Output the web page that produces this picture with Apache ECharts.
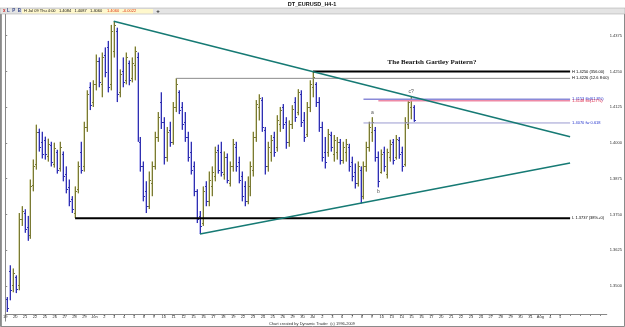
<!DOCTYPE html>
<html><head><meta charset="utf-8">
<script src="https://cdn.jsdelivr.net/npm/echarts@6/dist/echarts.min.js"></script>
<style>html,body{margin:0;padding:0;background:#fff}#c{width:625px;height:327px}</style>
</head><body><div id="c"></div>
<script>
// ---- data (EURUSD H4 bars) ----
const opens = [1.3454,1.3554,1.3503,1.3530,1.3503,1.3734,1.3755,1.3706,1.3679,1.3852,
1.3928,1.4039,1.4004,1.4011,1.3953,1.3994,1.3928,1.3970,1.3914,1.3963,
1.3893,1.3845,1.3803,1.3755,1.3838,1.3970,1.3918,1.4057,1.4195,1.4143,
1.4205,1.4288,1.4205,1.4309,1.4334,1.4205,1.4323,1.4392,1.4177,1.4253,
1.4219,1.4281,1.4226,1.4274,1.4299,1.4004,1.3918,1.3831,1.3779,1.3859,
1.3918,1.4021,1.4143,1.4074,1.3952,1.4046,1.4004,1.4126,1.4177,1.4126,
1.4074,1.4021,1.3970,1.3918,1.3831,1.3744,1.3720,1.3848,1.3796,1.3848,
1.3883,1.3977,1.3970,1.3893,1.3952,1.3859,1.3918,1.3987,1.3935,1.3883,
1.3848,1.3796,1.3848,1.3907,1.4021,1.4126,1.4150,1.4046,1.3918,1.3970,
1.4021,1.3987,1.4066,1.4126,1.4074,1.4004,1.4066,1.4143,1.4108,1.4170,
1.4079,1.4031,1.4126,1.4195,1.4205,1.4143,1.4056,1.3970,1.3970,1.4028,
1.3963,1.3970,1.4004,1.3942,1.3970,1.3987,1.3935,1.3900,1.3859,1.3907,
1.3814,1.3918,1.3987,1.4039,1.4046,1.3952,1.3900,1.3970,1.3893,1.3952,
1.4004,1.3952,1.4011,1.3970,1.3928,1.4066,1.4126,1.4126];
const highs = [1.3461,1.3572,1.3561,1.3537,1.3755,1.3779,1.3768,1.3745,1.3872,1.3942,
1.4064,1.4050,1.4039,1.4022,1.4015,1.4004,1.4001,1.3976,1.4004,1.3970,
1.3918,1.3872,1.3814,1.3848,1.3935,1.4004,1.4074,1.4184,1.4212,1.4219,
1.4309,1.4299,1.4316,1.4334,1.4357,1.4413,1.4426,1.4403,1.4257,1.4299,
1.4316,1.4288,1.4299,1.4337,1.4316,1.4021,1.3935,1.3866,1.3900,1.3935,
1.4039,1.4108,1.4177,1.4090,1.4056,1.4074,1.4143,1.4226,1.4184,1.4143,
1.4108,1.4039,1.4004,1.3935,1.3838,1.3762,1.3848,1.3866,1.3900,1.3918,
1.3987,1.3994,1.4004,1.3970,1.3963,1.3935,1.4014,1.4004,1.3952,1.3900,
1.3866,1.3883,1.3935,1.4039,1.4150,1.4170,1.4160,1.4056,1.4004,1.4028,
1.4039,1.4097,1.4126,1.4136,1.4090,1.4079,1.4132,1.4160,1.4188,1.4184,
1.4108,1.4143,1.4219,1.4250,1.4212,1.4160,1.4074,1.4021,1.4049,1.4039,
1.4028,1.4021,1.4014,1.4004,1.4014,1.3997,1.3952,1.3928,1.3935,1.3918,
1.3935,1.4004,1.4074,1.4090,1.4056,1.3970,1.3977,1.3987,1.3980,1.4011,
1.4014,1.4028,1.4021,1.3987,1.4090,1.4153,1.4163,1.4132];
const lows = [1.3409,1.3450,1.3478,1.3475,1.3485,1.3710,1.3686,1.3658,1.3665,1.3831,
1.3907,1.3970,1.3946,1.3942,1.3935,1.3918,1.3914,1.3893,1.3900,1.3866,
1.3824,1.3779,1.3755,1.3738,1.3824,1.3893,1.3900,1.4039,1.4115,1.4126,
1.4184,1.4195,1.4160,1.4230,1.4177,1.4184,1.4299,1.4143,1.4160,1.4195,
1.4205,1.4202,1.4212,1.4219,1.4004,1.3900,1.3796,1.3755,1.3769,1.3814,
1.3907,1.4004,1.4049,1.3925,1.3935,1.3987,1.3994,1.4108,1.4101,1.4046,
1.4004,1.3935,1.3890,1.3814,1.3720,1.3682,1.3710,1.3779,1.3779,1.3814,
1.3866,1.3893,1.3883,1.3872,1.3859,1.3848,1.3900,1.3900,1.3859,1.3796,
1.3779,1.3786,1.3814,1.3883,1.4004,1.4079,1.4039,1.3890,1.3900,1.3935,
1.3952,1.3970,1.4039,1.4049,1.3980,1.3987,1.4049,1.4074,1.4097,1.4056,
1.4004,1.4021,1.4108,1.4160,1.4126,1.4039,1.3935,1.3911,1.3952,1.3970,
1.3935,1.3942,1.3925,1.3928,1.3935,1.3900,1.3866,1.3841,1.3848,1.3789,
1.3803,1.3900,1.3970,1.4004,1.3935,1.3845,1.3893,1.3900,1.3876,1.3935,
1.3925,1.3942,1.3945,1.3900,1.3918,1.4049,1.4083,1.4074];
const closes = [1.3422,1.3485,1.3547,1.3489,1.3734,1.3762,1.3699,1.3672,1.3849,1.3918,
1.4039,1.3987,1.3963,1.3963,1.3997,1.3935,1.3983,1.3907,1.3987,1.3883,
1.3838,1.3796,1.3768,1.3831,1.3918,1.3907,1.4057,1.4170,1.4133,1.4205,
1.4288,1.4212,1.4299,1.4247,1.4195,1.4392,1.4413,1.4170,1.4240,1.4212,
1.4299,1.4219,1.4281,1.4323,1.4021,1.3918,1.3814,1.3779,1.3872,1.3918,
1.4021,1.4090,1.4074,1.3952,1.4039,1.4004,1.4126,1.4205,1.4115,1.4066,
1.4021,1.3952,1.3907,1.3831,1.3734,1.3710,1.3831,1.3796,1.3872,1.3900,
1.3970,1.3907,1.3900,1.3952,1.3872,1.3918,1.3997,1.3918,1.3872,1.3814,
1.3796,1.3866,1.3918,1.4021,1.4136,1.4157,1.4056,1.3918,1.3987,1.4011,
1.3970,1.4079,1.4115,1.4066,1.4004,1.4066,1.4118,1.4090,1.4177,1.4074,
1.4021,1.4126,1.4205,1.4229,1.4143,1.4056,1.3952,1.3935,1.4031,1.3987,
1.4011,1.4004,1.3942,1.3987,1.3997,1.3918,1.3883,1.3859,1.3918,1.3814,
1.3918,1.3987,1.4056,1.4074,1.3952,1.3866,1.3963,1.3918,1.3970,1.3997,
1.3942,1.4014,1.3963,1.3918,1.4074,1.4143,1.4150,1.4079];

// x-axis tick labels (one every 10 px)
const xTickLabels = ["19","20","21","22","25","26","27","28","29","Jun","2","3","4","5","8","9","10","11","12",
"15","16","17","18","19","22","23","24","25","26","29","30","Jul","2","3","6","7","8","9","10","13","14",
"15","16","17","20","21","22","23","24","27","28","29","30","31","Aug","4","5"];

// horizontal study levels
const levelValues = [1.4250, 1.4226, 1.4153, 1.4148, 1.4070, 1.3737];
const levelStartBars = [103, 57, 120, 125, 120, 23];
const levelEndBar = 190;
const levelTexts = ["H 1.4250 (356.00)", "H 1.4226 (12.6 8:00)", "1.4153 fib(61.8%)", "1.4148 fib(127%)", "1.4070 fw 0.618", "L 1.3737 (38%+0)"];

// trend lines [bar, price]
const trendUpper = [[36.5, 1.4426], [190, 1.4022]];
const trendLower = [[65.5, 1.3682], [190, 1.3930]];

// pattern points
const patternNames = ["a", "b", "c?"];
const patternBars = [123, 125, 136];
const patternSide = ["high", "low", "high"];

const chartTitle = "DT_EURUSD_H4-1";
const patternTitle = "The Bearish Gartley Pattern?";
const infoText = "H Jul 09 Thu 4:00   1.4084   1.4087   1.4060";
const infoRed = "1.4060   -0.0022";
const footer = "Chart created by Dynamic Trader  (c) 1996-2009";

// ---- styles ----
const levelStyles = [
  {color:'#000000', width:2, label:'#000'},
  {color:'#8c8c8c', width:1, label:'#000'},
  {color:'#8a8ad8', width:1.5, label:'#2233cc'},
  {color:'#ee8aa6', width:1.5, label:'#dd2244'},
  {color:'#9a9ad0', width:1, label:'#2233cc'},
  {color:'#000000', width:2, label:'#000'}
];
const FONT = 'Liberation Sans';

const ohlc = opens.map((o, i) => [i, o, highs[i], lows[i], closes[i]]);

const series = [];
series.push({
  type: 'custom',
  data: ohlc,
  encode: {x: 0, y: [1, 2, 3, 4]},
  z: 3,
  renderItem(params, api) {
    const i = api.value(0), o = api.value(1), h = api.value(2), l = api.value(3), c = api.value(4);
    const pH = api.coord([i + 0.5, h]), pL = api.coord([i + 0.5, l]);
    const pO = api.coord([i + 0.5, o]), pC = api.coord([i + 0.5, c]);
    const up = c >= o;
    const dark = up ? '#7a7a34' : '#3030b0';
    const light = up ? '#d8d8b0' : '#b8b8f0';
    const cx = Math.round(pH[0]);
    const yo = Math.round(pO[1]) + 0.5, yc = Math.round(pC[1]) + 0.5;
    return {type: 'group', children: [
      {type: 'rect', shape: {x: cx - 1, y: pH[1], width: 2, height: Math.max(1, pL[1] - pH[1])}, style: {fill: light}},
      {type: 'line', shape: {x1: cx + 0.5, y1: pH[1], x2: cx + 0.5, y2: pL[1]}, style: {stroke: dark, lineWidth: 1}},
      {type: 'line', shape: {x1: cx - 1, y1: yo, x2: cx + 0.5, y2: yo}, style: {stroke: dark, lineWidth: 1}},
      {type: 'line', shape: {x1: cx + 0.5, y1: yc, x2: cx + 2, y2: yc}, style: {stroke: dark, lineWidth: 1}}
    ]};
  }
});

levelValues.forEach((v, k) => {
  const st = levelStyles[k];
  series.push({
    type: 'line', z: 4, symbol: 'none', silent: true,
    data: [[levelStartBars[k] + 0.5, v], [levelEndBar, v]],
    lineStyle: {color: st.color, width: st.width},
    endLabel: {show: true, formatter: levelTexts[k], fontSize: 4, fontFamily: FONT, color: st.label, distance: 2}
  });
});

[trendUpper, trendLower].forEach(tl => {
  series.push({
    type: 'line', z: 5, symbol: 'none', silent: true, data: tl,
    lineStyle: {color: '#167a74', width: 1.6}
  });
});

const last = closes.length - 1;
series.push({
  type: 'line', data: [], silent: true,
  markLine: {
    symbol: 'none', silent: true, animation: false,
    lineStyle: {opacity: 0},
    label: {show: true, position: 'end', distance: 0, formatter: closes[last].toFixed(4),
      backgroundColor: '#ffff33', color: '#000', fontSize: 4, fontFamily: FONT, padding: [1, 3]},
    data: [{yAxis: closes[last]}]
  }
});

series.push({
  type: 'scatter', z: 6, symbolSize: 0, silent: true,
  data: patternNames.map((n, k) => ({
    value: [patternBars[k] + 0.5, patternSide[k] === 'high' ? highs[patternBars[k]] : lows[patternBars[k]]],
    label: {position: patternSide[k] === 'high' ? 'top' : 'bottom'}
  })),
  label: {show: true, formatter: p => patternNames[p.dataIndex], fontSize: 5, fontFamily: FONT, color: '#222', distance: 2}
});

const chart = echarts.init(document.getElementById('c'), null, {renderer: 'canvas'});
chart.setOption({
  animation: false,
  backgroundColor: '#ffffff',
  grid: {left: 2, right: 16, top: -3.2, bottom: 5.3, containLabel: false},
  xAxis: {
    type: 'value', min: 0, max: 607 / 3, interval: 10 / 3, offset: -7.7,
    axisLine: {show: true, lineStyle: {color: '#888', width: 1}},
    axisTick: {show: true, length: 2, lineStyle: {color: '#888'}},
    splitLine: {show: false},
    axisLabel: {fontSize: 4, fontFamily: FONT, color: '#333', margin: 1, showMaxLabel: false,
      formatter: v => { const s = xTickLabels[Math.round(v * 0.3)]; return s === undefined ? '' : s; }}
  },
  yAxis: {
    type: 'value', position: 'right', min: 1.3375, max: 1.4500, interval: 0.0125,
    axisLine: {show: true, lineStyle: {color: '#888', width: 1}},
    axisTick: {show: true, length: 2, lineStyle: {color: '#888'}},
    splitLine: {show: false},
    axisLabel: {fontSize: 4, fontFamily: FONT, color: '#333', margin: 3, showMinLabel: false, showMaxLabel: false,
      formatter: v => v.toFixed(4)}
  },
  series,
  graphic: [
    {type: 'rect', z: 100, shape: {x: 0, y: 0, width: 625, height: 8}, style: {fill: '#ffffff'}},
    {type: 'rect', z: 100, shape: {x: 0, y: 8, width: 625, height: 6}, style: {fill: '#e4e4e4', stroke: '#a0a0a0', lineWidth: 0.5}},
    {type: 'text', z: 101, style: {text: chartTitle, x: 312, y: 4, align: 'center', verticalAlign: 'middle', fontSize: 5.5, fontWeight: 'bold', fontFamily: FONT, fill: '#111'}},
    {type: 'text', z: 101, style: {text: 'x', x: 3, y: 11, verticalAlign: 'middle', fontSize: 4.5, fontFamily: FONT, fill: '#cc2222', fontWeight: 'bold'}},
    {type: 'text', z: 101, style: {text: 'L  P  B', x: 7, y: 11, verticalAlign: 'middle', fontSize: 4.5, fontFamily: FONT, fill: '#334488', fontWeight: 'bold'}},
    {type: 'rect', z: 101, shape: {x: 22, y: 9, width: 131, height: 4.5}, style: {fill: '#fff8cc'}},
    {type: 'text', z: 102, style: {text: infoText, x: 24, y: 11.3, verticalAlign: 'middle', fontSize: 4, fontFamily: FONT, fill: '#111'}},
    {type: 'text', z: 102, style: {text: infoRed, x: 107, y: 11.3, verticalAlign: 'middle', fontSize: 4, fontFamily: FONT, fill: '#dd3311'}},
    {type: 'text', z: 102, style: {text: '+', x: 158, y: 11.2, align: 'center', verticalAlign: 'middle', fontSize: 6, fontFamily: FONT, fill: '#111', fontWeight: 'bold'}},
    {type: 'rect', z: 99, shape: {x: 0.5, y: 0.5, width: 624, height: 326}, style: {fill: 'none', stroke: '#8a8a8a', lineWidth: 1}},
    {type: 'line', z: 99, shape: {x1: 1.5, y1: 14, x2: 1.5, y2: 326}, style: {stroke: '#9a9a9a', lineWidth: 1}},
    {type: 'rect', z: 98, shape: {x: 1, y: 321.5, width: 608, height: 5}, style: {fill: '#ffffff'}},
    {type: 'text', z: 101, style: {text: footer, x: 312, y: 323.5, align: 'center', verticalAlign: 'middle', fontSize: 4, fontFamily: FONT, fill: '#333'}},
    {type: 'text', z: 101, style: {text: patternTitle, x: 432, y: 62, align: 'center', verticalAlign: 'middle', fontSize: 7, fontWeight: 'bold', fontFamily: 'Liberation Serif', fill: '#111'}}
  ]
});
</script>
</body></html>
